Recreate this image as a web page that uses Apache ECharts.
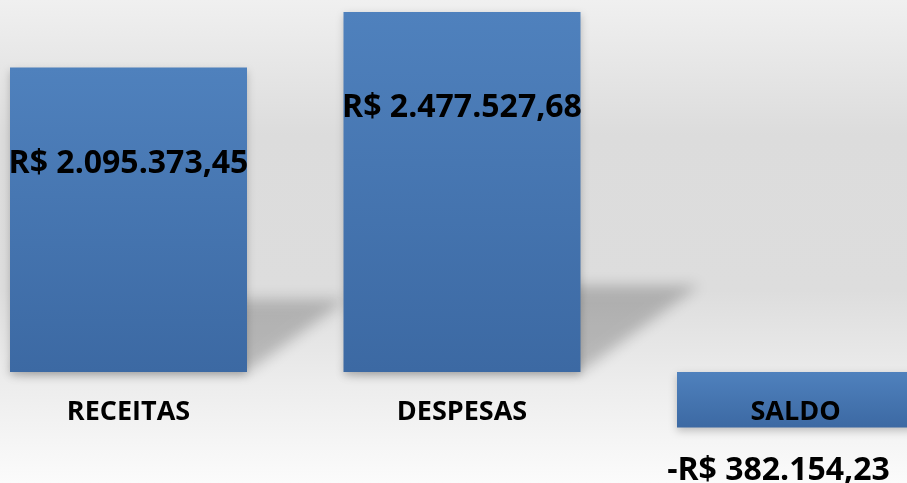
<!DOCTYPE html>
<html>
<head>
<meta charset="utf-8">
<script src="https://cdn.jsdelivr.net/npm/echarts@6/dist/echarts.min.js"></script>
<style>
html,body{margin:0;padding:0;}
#chart{width:907px;height:483px;}
</style>
</head>
<body>
<div id="chart"></div>
<script>
var categories = ['RECEITAS', 'DESPESAS', 'SALDO'];
var values = [2095373.45, 2477527.68, -382154.23];

function fmtBRL(v) {
  var neg = v < 0;
  var a = Math.abs(v).toFixed(2).split('.');
  var intPart = a[0].replace(/\B(?=(\d{3})+(?!\d))/g, '.');
  return (neg ? '-' : '') + 'R$ ' + intPart + ',' + a[1];
}

var FONT = '"Open Sans", "Noto Sans", sans-serif';

var barData = values.map(function (v, i) {
  var item = { value: v };
  if (v < 0) {
    item.label = { position: 'bottom', distance: 27, offset: [-17, 0] };
  } else {
    item.label = { position: 'insideTop', distance: 80 };
  }
  return item;
});

var shadowData = values.map(function (v, i) { return [i, v]; });

var OFF = 3000;

var chart = echarts.init(document.getElementById('chart'));
chart.setOption({
  backgroundColor: {
    type: 'linear', x: 0, y: 0, x2: 0, y2: 1,
    colorStops: [
      { offset: 0, color: '#f0f0f0' },
      { offset: 0.28, color: '#dcdcdc' },
      { offset: 0.6, color: '#dddddd' },
      { offset: 0.8, color: '#ededed' },
      { offset: 1, color: '#fbfbfb' }
    ]
  },
  animation: false,
  grid: { left: -38.25, width: 1000.5, top: 0, bottom: 0, containLabel: false, outerBoundsMode: 'none' },
  xAxis: {
    type: 'category',
    data: categories,
    axisLine: { show: false },
    axisTick: { show: false },
    axisLabel: { show: false }
  },
  yAxis: {
    type: 'value',
    min: -763905,
    max: 2560111,
    show: false,
    splitLine: { show: false }
  },
  series: [
    {
      type: 'custom',
      z: 1,
      silent: true,
      data: shadowData,
      encode: { x: 0, y: 1 },
      renderItem: function (params, api) {
        var idx = api.value(0);
        var v = api.value(1);
        if (v <= 0) return null;
        var base = api.coord([idx, 0]);
        var top = api.coord([idx, v]);
        var bw = 237;
        var h = base[1] - top[1];
        var x0 = base[0] - bw / 2, x1 = base[0] + bw / 2, y0 = base[1];
        var dx = 0.33 * h, dy = 0.24 * h;
        var pts = [
          [x0 + OFF, y0], [x1 + OFF, y0],
          [x1 + dx + OFF, y0 - dy], [x0 + dx + OFF, y0 - dy]
        ];
        return {
          type: 'polygon',
          shape: { points: pts },
          style: {
            fill: '#000',
            shadowBlur: 14,
            shadowColor: 'rgba(0,0,0,0.21)',
            shadowOffsetX: -OFF,
            shadowOffsetY: 0
          }
        };
      }
    },
    {
      type: 'bar',
      z: 2,
      data: barData,
      barWidth: 237,
      itemStyle: {
        color: {
          type: 'linear', x: 0, y: 0, x2: 0, y2: 1,
          colorStops: [
            { offset: 0, color: '#4f81bd' },
            { offset: 1, color: '#3c69a3' }
          ]
        },
        shadowBlur: 8,
        shadowColor: 'rgba(0,0,0,0.22)',
        shadowOffsetY: 3
      },
      label: {
        show: true,
        color: '#000',
        fontFamily: FONT,
        fontWeight: 'bold',
        fontSize: 32,
        lineHeight: 32,
        formatter: function (p) { return fmtBRL(p.value); }
      }
    },
    {
      type: 'custom',
      z: 5,
      silent: true,
      data: categories.map(function (c, i) { return [i, 0]; }),
      encode: { x: 0, y: 1 },
      renderItem: function (params, api) {
        var idx = api.value(0);
        var p = api.coord([idx, 0]);
        return {
          type: 'text',
          x: p[0],
          y: p[1] + 40,
          style: {
            text: categories[idx],
            fill: '#000',
            fontFamily: FONT,
            fontWeight: 'bold',
            fontSize: 27,
            align: 'center',
            verticalAlign: 'middle'
          }
        };
      }
    }
  ]
});
</script>
</body>
</html>
